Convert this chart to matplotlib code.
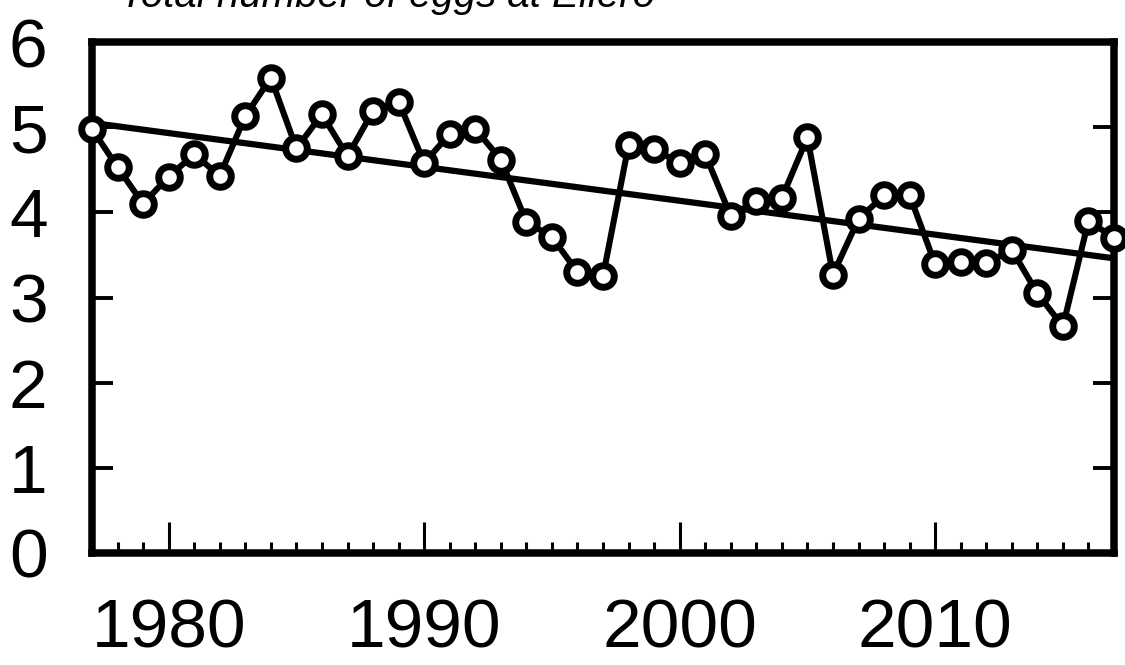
import matplotlib
matplotlib.use("Agg")
import matplotlib.pyplot as plt
from matplotlib.ticker import MultipleLocator

years = list(range(1977, 2018))
eggs = [4.98, 4.53, 4.10, 4.42, 4.68, 4.43, 5.13, 5.58, 4.75, 5.15,
        4.66, 5.19, 5.30, 4.58, 4.92, 4.98, 4.62, 3.89, 3.71, 3.30,
        3.25, 4.79, 4.74, 4.58, 4.68, 3.96, 4.13, 4.17, 4.88, 3.27,
        3.92, 4.20, 4.20, 3.39, 3.42, 3.40, 3.56, 3.05, 2.66, 3.90,
        3.70]
trend_years = [1977, 2017]
trend_vals = [5.05, 3.46]
title = "Total number of eggs at Ellerö"
xticks = [1980, 1990, 2000, 2010]
yticks = [0, 1, 2, 3, 4, 5, 6]

plt.rcParams['font.family'] = ['Liberation Sans', 'DejaVu Sans']

fig = plt.figure(figsize=(11.25, 6.65), dpi=100)
ax = fig.add_axes([92/1125, 1 - 553/665, (1114 - 92)/1125, (553 - 42)/665])

ax.plot(trend_years, trend_vals, color='black', lw=4.5, solid_capstyle='butt', zorder=3)
ax.plot(years, eggs, color='black', lw=4.4, marker='o', markersize=15.5,
        markerfacecolor='white', markeredgecolor='black', markeredgewidth=5.0,
        clip_on=False, zorder=5)

ax.set_xlim(1977, 2017)
ax.set_ylim(0, 6)
ax.set_xticks(xticks)
ax.xaxis.set_minor_locator(MultipleLocator(1))
ax.set_yticks(yticks)

for s in ax.spines.values():
    s.set_linewidth(5.4)
    s.set_zorder(4)

ax.tick_params(axis='x', which='major', direction='in', length=22, width=2.2,
               labelsize=50, pad=32)
ax.tick_params(axis='x', which='minor', direction='in', length=8, width=2.2)
ax.tick_params(axis='y', which='major', direction='in', length=15, width=2.8,
               labelsize=50, pad=32, right=True)

fig.text(120/1125, 1 - 7/665, title, fontsize=29, style='italic',
         va='baseline', ha='left')

fig.savefig("out.png", dpi=100)
